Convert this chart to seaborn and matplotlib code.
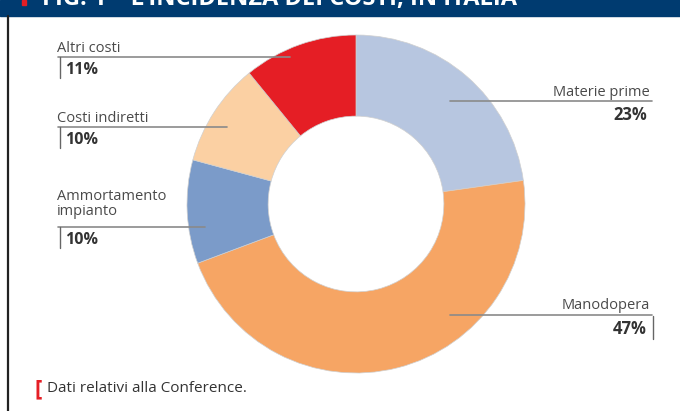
import matplotlib
matplotlib.use("Agg")
import matplotlib.pyplot as plt
import seaborn as sns
from matplotlib.lines import Line2D
from matplotlib.patches import Rectangle

# dati
voci = ["Materie prime", "Manodopera", "Ammortamento\nimpianto", "Costi indiretti", "Altri costi"]
quote = [23, 47, 10, 10, 11]
colori = ["#b7c6e0", "#f6a564", "#7b9bc9", "#fbd0a3", "#e51e25"]
titolo = "FIG. 1 – L'INCIDENZA DEI COSTI, IN ITALIA"
nota = "Dati relativi alla Conference."

sns.set_theme(style="white")
plt.rcParams["font.family"] = ["Open Sans", "DejaVu Sans"]

W, H = 680, 411
fig = plt.figure(figsize=(W / 100, H / 100), dpi=100)


def fx(x):
    return x / W


def fy(y):
    return 1 - y / H


# ciambella
cx, cy, r = 356, 204, 169
ax = fig.add_axes([fx(cx - r), fy(cy + r), 2 * r / W, 2 * r / H])
ax.pie(quote, colors=colori, startangle=90, counterclock=False, radius=1,
       wedgeprops=dict(width=0.48, edgecolor="#d0d0d0", linewidth=0.5))
ax.set_xlim(-1, 1)
ax.set_ylim(-1, 1)
ax.set_aspect("auto")
ax.axis("off")

# barra del titolo
fig.add_artist(Rectangle((0, fy(16)), 1, 16 / H, transform=fig.transFigure,
                         color="#003b70", zorder=0))
fig.text(fx(42), fy(5), titolo, color="white", fontsize=17, fontweight="bold",
         va="baseline", ha="left")
fig.add_artist(Rectangle((fx(22), fy(5)), 4 / W, 5 / H, transform=fig.transFigure,
                         color="#e51e25"))
# bordo sinistro
fig.add_artist(Line2D([fx(7.5), fx(7.5)], [fy(16), 0], transform=fig.transFigure,
                      color="#222222", lw=1.6))

# etichette: (y linea, x inizio, x fine, lato, distanza testo)
posizioni = {
    "Materie prime": (101, 450, 652, "right", 5),
    "Manodopera": (315, 450, 652, "right", 6),
    "Ammortamento\nimpianto": (227, 58, 205, "left", 12),
    "Costi indiretti": (127, 58, 227, "left", 5),
    "Altri costi": (57, 58, 290, "left", 5),
}
for voce, q in zip(voci, quote):
    ly, x0, x1, lato, gap = posizioni[voce]
    fig.add_artist(Line2D([fx(x0), fx(x1)], [fy(ly), fy(ly)], transform=fig.transFigure,
                          color="#8a8a8a", lw=1.2))
    if lato == "left":
        fig.text(fx(57), fy(ly - gap), voce, ha="left", va="baseline", fontsize=10.5,
                 color="#4a4a4a", linespacing=1.0)
        fig.text(fx(65), fy(ly + 13), f"{q}%", ha="left", va="center", fontsize=11.5,
                 fontweight="bold", color="#333333")
        fig.add_artist(Line2D([fx(60), fx(60)], [fy(ly), fy(ly + 21)],
                              transform=fig.transFigure, color="#666666", lw=1))
    else:
        fig.text(fx(650), fy(ly - gap), voce, ha="right", va="baseline", fontsize=10.5,
                 color="#4a4a4a")
        fig.text(fx(647), fy(ly + 14), f"{q}%", ha="right", va="center", fontsize=12,
                 fontweight="bold", color="#333333")
        if voce == "Manodopera":
            fig.add_artist(Line2D([fx(652.5), fx(652.5)], [fy(ly + 1), fy(ly + 24)],
                                  transform=fig.transFigure, color="#666666", lw=1))

# nota
fig.text(fx(35), fy(389), "[", color="#e51e25", fontsize=16, fontweight="bold",
         va="center", ha="left")
fig.text(fx(47), fy(388), nota, color="#333333", fontsize=11, va="center", ha="left")

fig.savefig("out.png", dpi=100)
